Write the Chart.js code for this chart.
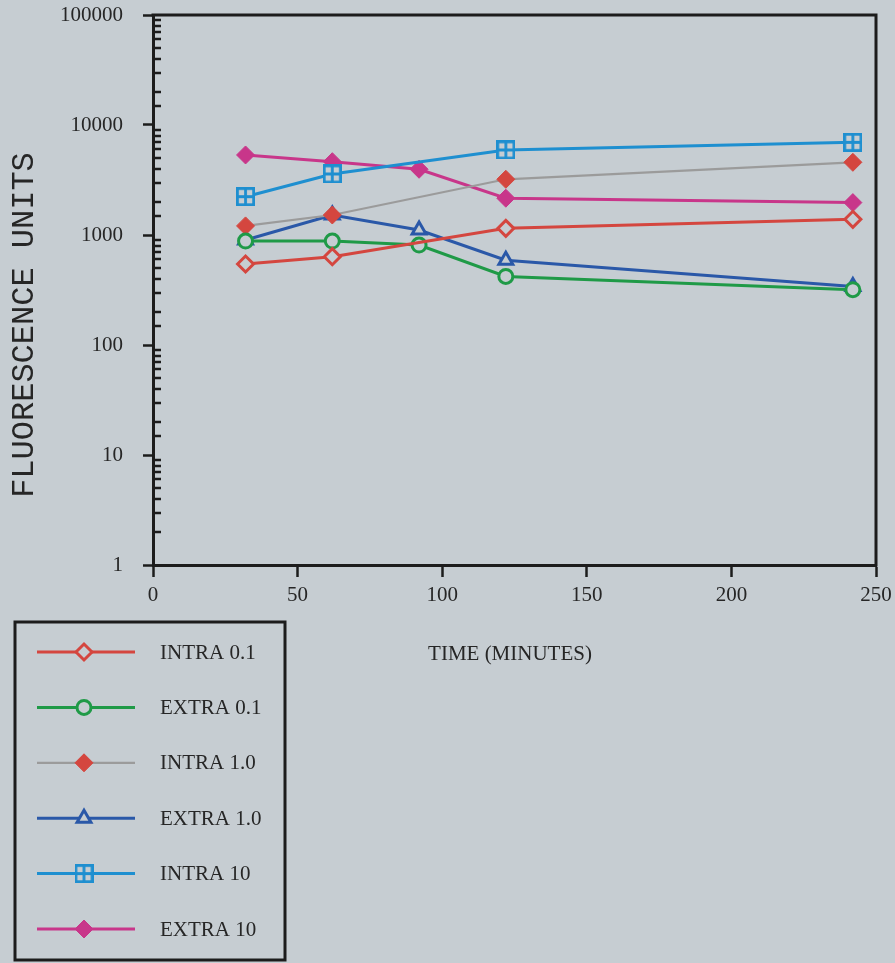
<!DOCTYPE html>
<html>
<head>
<meta charset="utf-8">
<title>Fluorescence vs time</title>
<script src="https://cdn.jsdelivr.net/npm/chart.js@4.4.1/dist/chart.umd.min.js"></script>
<style>
  html, body { margin: 0; padding: 0; background: #c6cdd2; }
  #wrap { width: 895px; height: 963px; }
</style>
</head>
<body>
<div id="wrap"><canvas id="fluoChart" width="895" height="963"></canvas></div>
<script>
'use strict';

// sampling times (minutes); the INTRA runs were not read at 90 min
var timesExtra = [32, 62, 92, 122, 242];
var timesIntra = [32, 62, 122, 242];

// fluorescence units per series
var intra01 = [545, 635, 1150, 1390];
var extra01 = [880, 880, 810, 420, 318];
var intra1  = [1210, 1520, 3210, 4580];
var extra1  = [900, 1520, 1110, 590, 340];
var intra10 = [2230, 3590, 5930, 6960];
var extra10 = [5340, 4640, 3960, 2160, 1970];

var seriesLabels = ['INTRA 0.1', 'EXTRA 0.1', 'INTRA 1.0', 'EXTRA 1.0', 'INTRA 10', 'EXTRA 10'];
var xTicks = [0, 50, 100, 150, 200, 250];
var yDecades = [1, 10, 100, 1000, 10000, 100000];

var bg = '#c6cdd2';
var ink = '#1c1c1c';
var red = '#d4463f';
var green = '#1f9a47';
var grey = '#9b9b9b';
var navy = '#2a58a8';
var sky = '#1e8fd0';
var magenta = '#c8368a';

function pairs(xs, ys) {
    return ys.map(function (v, i) { return { x: xs[i], y: v }; });
}

// square split in four, used for INTRA 10
function gridSquare(color, size) {
    var c = document.createElement('canvas');
    c.width = size;
    c.height = size;
    var g = c.getContext('2d');
    g.fillStyle = bg;
    g.fillRect(1, 1, size - 2, size - 2);
    g.strokeStyle = color;
    g.lineWidth = 2.8;
    g.strokeRect(1.4, 1.4, size - 2.8, size - 2.8);
    g.beginPath();
    g.moveTo(size / 2, 1);
    g.lineTo(size / 2, size - 1);
    g.moveTo(1, size / 2);
    g.lineTo(size - 1, size / 2);
    g.stroke();
    return c;
}

function isDecade(v) {
    return yDecades.indexOf(Math.round(v)) >= 0 && Math.abs(v - Math.round(v)) < 1e-6;
}

var datasets = [
    { label: seriesLabels[0], data: pairs(timesIntra, intra01), borderColor: red, borderWidth: 3,
      pointStyle: 'rectRot', pointRadius: 8, pointBorderWidth: 3, pointBackgroundColor: bg, pointBorderColor: red },
    { label: seriesLabels[1], data: pairs(timesExtra, extra01), borderColor: green, borderWidth: 3,
      pointStyle: 'circle', pointRadius: 7, pointBorderWidth: 3, pointBackgroundColor: bg, pointBorderColor: green },
    { label: seriesLabels[2], data: pairs(timesIntra, intra1), borderColor: grey, borderWidth: 2.2,
      pointStyle: 'rectRot', pointRadius: 9, pointBorderWidth: 1, pointBackgroundColor: red, pointBorderColor: red },
    { label: seriesLabels[3], data: pairs(timesExtra, extra1), borderColor: navy, borderWidth: 3,
      pointStyle: 'triangle', pointRadius: 8, pointBorderWidth: 3, pointBackgroundColor: bg, pointBorderColor: navy },
    { label: seriesLabels[4], data: pairs(timesIntra, intra10), borderColor: sky, borderWidth: 3,
      pointStyle: gridSquare(sky, 19), pointRadius: 9, pointBorderWidth: 0, pointBackgroundColor: sky, pointBorderColor: sky },
    { label: seriesLabels[5], data: pairs(timesExtra, extra10), borderColor: magenta, borderWidth: 3,
      pointStyle: 'rectRot', pointRadius: 9, pointBorderWidth: 1, pointBackgroundColor: magenta, pointBorderColor: magenta }
];
datasets.forEach(function (d) {
    d.tension = 0;
    d.fill = false;
    d.pointHoverRadius = d.pointRadius;
});

// top/right frame, inner minor ticks, axis titles and the boxed key
var decorations = {
    id: 'decorations',
    afterDraw: function (chart) {
        var ctx = chart.ctx;
        var area = chart.chartArea;
        var y = chart.scales.y;

        ctx.save();
        ctx.strokeStyle = ink;
        ctx.lineWidth = 3;
        ctx.beginPath();
        ctx.moveTo(area.left - 1.5, area.top);
        ctx.lineTo(area.right, area.top);
        ctx.lineTo(area.right, area.bottom + 1.5);
        ctx.stroke();

        ctx.lineWidth = 2.5;
        ctx.beginPath();
        y.ticks.forEach(function (t) {
            if (isDecade(t.value)) return;
            var py = Math.round(y.getPixelForValue(t.value));
            ctx.moveTo(area.left, py);
            ctx.lineTo(area.left + 8, py);
        });
        ctx.stroke();

        ctx.fillStyle = '#262626';
        ctx.font = '32px "Liberation Mono", monospace';
        ctx.textAlign = 'center';
        ctx.textBaseline = 'middle';
        ctx.translate(25, 325);
        ctx.rotate(-Math.PI / 2);
        ctx.fillText('FLUORESCENCE UNITS', 0, 0);
        ctx.setTransform(1, 0, 0, 1, 0, 0);

        ctx.font = '21px "Liberation Serif", serif';
        ctx.fillText('TIME (MINUTES)', 510, 654);

        // key
        ctx.lineWidth = 3;
        ctx.strokeStyle = ink;
        ctx.strokeRect(15, 622, 270, 338);
        chart.data.datasets.forEach(function (d, i) {
            var ly = 652 + i * 55.4;
            ctx.strokeStyle = d.borderColor;
            ctx.lineWidth = d.borderWidth;
            ctx.beginPath();
            ctx.moveTo(37, ly);
            ctx.lineTo(135, ly);
            ctx.stroke();
            ctx.fillStyle = d.pointBackgroundColor;
            ctx.strokeStyle = d.pointBorderColor;
            ctx.lineWidth = d.pointBorderWidth;
            Chart.helpers.drawPoint(ctx, {
                pointStyle: d.pointStyle,
                radius: d.pointRadius,
                rotation: 0,
                borderWidth: d.pointBorderWidth
            }, 84, ly);
            ctx.fillStyle = '#262626';
            ctx.textAlign = 'left';
            ctx.fillText(d.label, 160, ly + 1);
        });
        ctx.restore();
    }
};

Chart.defaults.font.family = '"Liberation Serif", serif';
Chart.defaults.font.size = 21;
Chart.defaults.color = '#262626';

new Chart(document.getElementById('fluoChart'), {
    type: 'line',
    data: { datasets: datasets },
    options: {
        responsive: false,
        animation: false,
        devicePixelRatio: 1,
        layout: { padding: { top: 15, right: 19, bottom: 338, left: 0 } },
        plugins: {
            legend: { display: false },
            tooltip: { enabled: false }
        },
        scales: {
            x: {
                type: 'linear',
                min: xTicks[0],
                max: xTicks[xTicks.length - 1],
                afterBuildTicks: function (scale) {
                    scale.ticks = xTicks.map(function (v) { return { value: v }; });
                },
                afterFit: function (scale) {
                    scale.height = 60;
                    scale.paddingLeft = 0;
                    scale.paddingRight = 0;
                },
                ticks: { padding: 6, maxRotation: 0 },
                border: { color: ink, width: 3 },
                grid: { drawOnChartArea: false, tickLength: 12, tickWidth: 2.5, tickColor: ink }
            },
            y: {
                type: 'logarithmic',
                min: yDecades[0],
                max: yDecades[yDecades.length - 1],
                afterFit: function (scale) {
                    scale.width = 153;
                    scale.paddingTop = 0;
                    scale.paddingBottom = 0;
                },
                ticks: {
                    autoSkip: false,
                    padding: 20,
                    callback: function (v) { return isDecade(v) ? String(Math.round(v)) : ''; }
                },
                border: { color: ink, width: 3 },
                grid: {
                    drawOnChartArea: false,
                    tickLength: 10,
                    tickWidth: 2.5,
                    tickColor: function (c) {
                        return c.tick && isDecade(c.tick.value) ? ink : 'rgba(0,0,0,0)';
                    }
                }
            }
        }
    },
    plugins: [decorations]
});
</script>
</body>
</html>
